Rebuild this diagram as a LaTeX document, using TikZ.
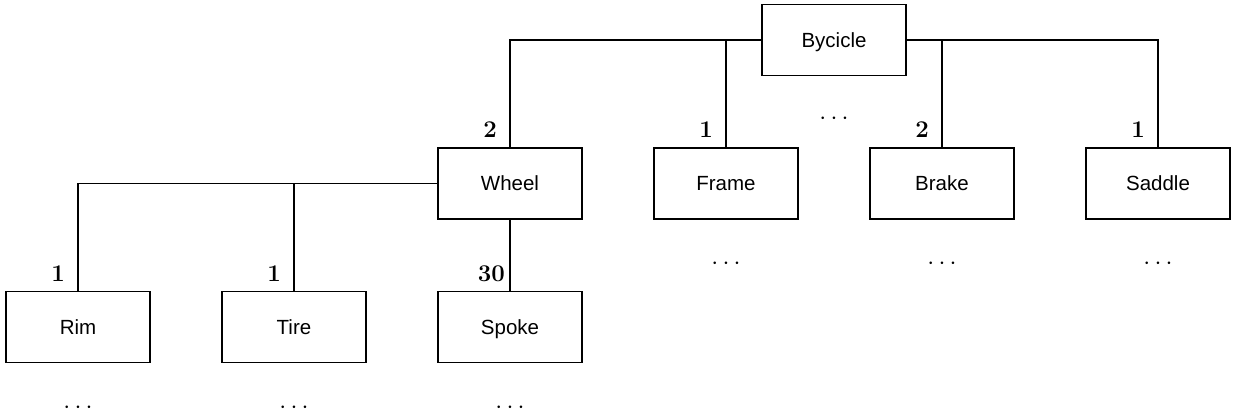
\documentclass[tikz,border=0pt]{standalone}
\usepackage{fontspec}
\newfontfamily\boxfont{Liberation Sans}
\begin{document}
\begin{tikzpicture}[x=1pt,y=-1pt,
  part/.style={draw,line width=1.6pt,minimum width=144pt,minimum height=71pt,inner sep=0pt,text height=17.4pt,text depth=3pt,font=\boxfont\fontsize{20.5}{24}\selectfont},
  conn/.style={line width=1.6pt},
  num/.style={inner sep=0pt,anchor=base east,font=\fontsize{24}{28}\selectfont\bfseries},
  more/.style={inner sep=0pt,font=\fontsize{24}{28}\selectfont}]
\useasboundingbox (0,0) rectangle (1235,420);
\node[part] (bike) at (834,40) {Bycicle};
\node[part] (wheel) at (510,183.5) {Wheel};
\node[part] (frame) at (726,183.5) {Frame};
\node[part] (brake) at (942,183.5) {Brake};
\node[part] (saddle) at (1158,183.5) {Saddle};
\node[part] (rim) at (78,327) {Rim};
\node[part] (tire) at (294,327) {Tire};
\node[part] (spoke) at (510,327) {Spoke};
\draw[conn] (bike.west) -| (wheel.north);
\draw[conn] (frame.north) -- (frame.north |- bike.west);
\draw[conn] (bike.east) -| (saddle.north);
\draw[conn] (brake.north) -- (brake.north |- bike.east);
\draw[conn] (wheel.west) -| (rim.north);
\draw[conn] (tire.north) -- (tire.north |- wheel.west);
\draw[conn] (wheel.south) -- (spoke.north);
\node[num] (n1) at (497,137.5) {2};
\node[num] (n2) at (713,137.5) {1};
\node[num] (n3) at (929,137.5) {2};
\node[num] (n4) at (1145,137.5) {1};
\node[num] (n5) at (65,281.5) {1};
\node[num] (n6) at (281,281.5) {1};
\node[num] (n7) at (505,281.5) {30};
\node[more] (d1) at (834,118.5) {$\cdots$};
\node[more] (d2) at (726,263.5) {$\cdots$};
\node[more] (d3) at (942,263.5) {$\cdots$};
\node[more] (d4) at (1158,263.5) {$\cdots$};
\node[more] (d5) at (78,407.5) {$\cdots$};
\node[more] (d6) at (294,407.5) {$\cdots$};
\node[more] (d7) at (510,407.5) {$\cdots$};
\end{tikzpicture}
\end{document}
